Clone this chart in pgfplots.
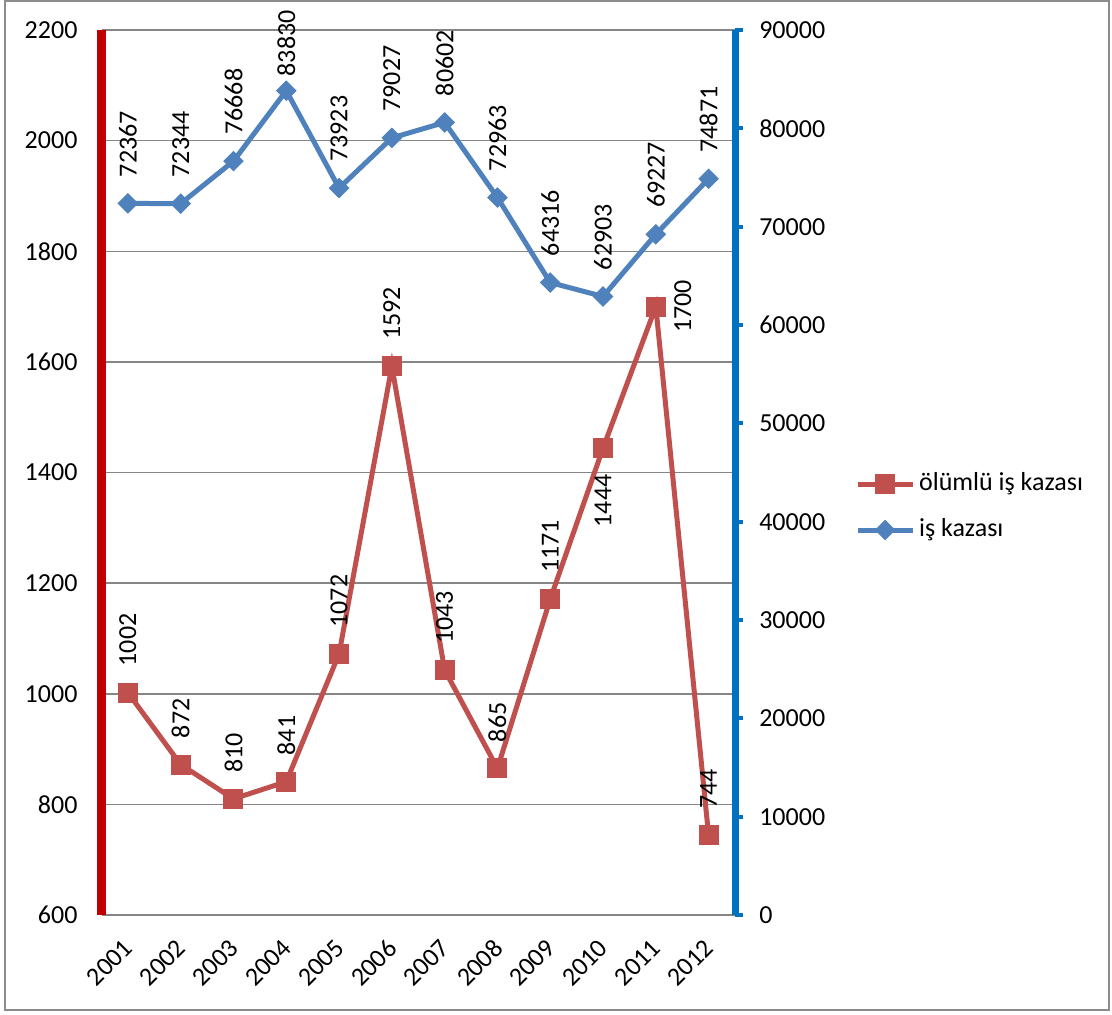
\documentclass[border=0pt]{standalone}
\usepackage{fontspec}
\setmainfont{Carlito}
\usepackage{pgfplots}
\usepackage{pgfplotstable}
\pgfplotsset{compat=1.18}
\definecolor{serred}{HTML}{C0504D}
\definecolor{serblue}{HTML}{4F81BD}
\definecolor{axred}{HTML}{C00000}
\definecolor{axblue}{HTML}{0070C0}
\definecolor{gridgray}{HTML}{868686}
\definecolor{bordergray}{HTML}{8C8C8C}

\pgfplotstableread{
x y
0 1002
1 872
2 810
3 841
4 1072
5 1592
6 1043
7 865
8 1171
9 1444
10 1700
11 744
}\redtab

\pgfplotstableread{
x y
0 72367
1 72344
2 76668
3 83830
4 73923
5 79027
6 80602
7 72963
8 64316
9 62903
10 69227
11 74871
}\bluetab

\pgfplotsset{
  common/.style={
    scale only axis, width=316.75pt, height=442.5pt,
    at={(50.75pt,49.5pt)}, anchor=south west,
    xmin=-0.5, xmax=11.5, clip=false,
    font=\fontsize{13}{15.5}\selectfont,
    /pgf/number format/assume math mode=true,
    /pgf/number format/1000 sep={},
  },
}
\tikzset{lab/.style={rotate=90, text=black, font=\fontsize{13}{15.5}\selectfont, inner xsep=13pt, inner ysep=9pt}}

\begin{document}
\begin{tikzpicture}
\useasboundingbox (0,0) rectangle (556pt,507pt);
\draw[bordergray, line width=1pt] (2.5pt,2pt) rectangle (554.5pt,506.5pt);

\begin{axis}[common,
  ymin=600, ymax=2200, ytick={600,800,...,2200},
  axis y line*=left, axis x line*=bottom,
  ymajorgrids, grid style={gridgray, line width=0.75pt},
  y axis line style={draw=axred, line width=4.5pt, -},
  x axis line style={draw=gridgray, line width=0.75pt, -},
  ytick style={draw=none},
  yticklabel style={xshift=-8.5pt},
  xtick={0,...,11},
  xticklabels={2001,2002,2003,2004,2005,2006,2007,2008,2009,2010,2011,2012},
  xtick style={draw=none},
  xticklabel style={rotate=45, anchor=north east, yshift=-2.6pt, xshift=-6.6pt},
  extra x ticks={-0.5,0.5,...,11.5},
  extra x tick labels={},
  extra x tick style={tick style={draw=gridgray, line width=0.75pt}, major tick length=5pt, tick align=outside, grid=none},
]
\addplot[color=serred, line width=2.5pt, mark=square*, mark size=4.75pt,
  mark options={solid, line width=0.5pt}]
  table[x=x, y=y]{\redtab};
\addplot[draw=none, mark=none, nodes near coords, point meta=explicit symbolic,
  every node near coord/.append style={lab, anchor=west}]
  coordinates {(0,1002)[1002] (1,872)[872] (2,810)[810] (3,841)[841] (4,1072)[1072]
   (5,1592)[1592] (6,1043)[1043] (7,865)[865] (8,1171)[1171] (11,744)[744]};
\addplot[draw=none, mark=none, nodes near coords, point meta=explicit symbolic,
  every node near coord/.append style={lab, anchor=east}]
  coordinates {(9,1444)[1444]};
\addplot[draw=none, mark=none, nodes near coords, point meta=explicit symbolic,
  every node near coord/.append style={lab, anchor=north}]
  coordinates {(10,1700)[1700]};
\end{axis}

\begin{axis}[common,
  ymin=0, ymax=90000, ytick={0,10000,...,90000},
  scaled y ticks=false,
  axis y line*=right, axis x line=none,
  y axis line style={draw=axblue, line width=3.5pt, -},
  ytick style={draw=axblue, line width=2pt},
  major tick length=4pt, tick align=outside,
  yticklabel style={xshift=4.6pt},
  legend style={draw=none, fill=none, at={(1.189,0.461)}, anchor=west,
    inner sep=0pt, row sep=7pt, font=\fontsize{13}{15.5}\selectfont,
    nodes={inner sep=2pt, text height=9pt, text depth=3pt}},
  legend cell align=left,
  legend image code/.code={\draw[#1, mark repeat=2, mark phase=2] plot coordinates {(0pt,0pt) (13.75pt,0pt) (27.5pt,0pt)};},
]
\addlegendimage{color=serred, line width=2.5pt, mark=square*, mark size=4.75pt, mark options={solid, line width=0.5pt}}
\addlegendentry{ölümlü iş kazası}
\addplot[color=serblue, line width=2.5pt, mark=square*, mark size=3.4pt,
  mark options={solid, rotate=45, line width=0.5pt}]
  table[x=x, y=y]{\bluetab};
\addlegendentry{iş kazası}
\addplot[draw=none, mark=none, nodes near coords, point meta=explicit symbolic,
  every node near coord/.append style={lab, anchor=west}, forget plot]
  coordinates {(0,72367)[72367] (1,72344)[72344] (2,76668)[76668] (4,73923)[73923]
   (5,79027)[79027] (6,80602)[80602] (7,72963)[72963] (8,64316)[64316]
   (9,62903)[62903] (10,69227)[69227] (11,74871)[74871]};
\addplot[draw=none, mark=none, nodes near coords, point meta=explicit symbolic,
  every node near coord/.append style={lab, anchor=west, inner xsep=7pt}, forget plot]
  coordinates {(3,83830)[83830]};
\end{axis}
\end{tikzpicture}
\end{document}
